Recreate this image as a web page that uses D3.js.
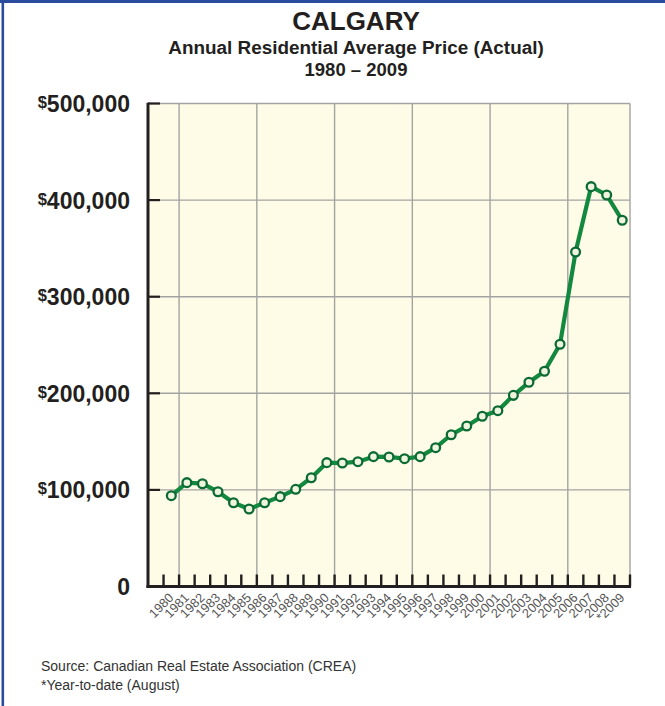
<!DOCTYPE html>
<html>
<head>
<meta charset="utf-8">
<script src="https://cdn.jsdelivr.net/npm/d3@7"></script>
<style>
  html, body { margin: 0; padding: 0; background: #fff; }
  svg { display: block; font-family: "Liberation Sans", Arial, Helvetica, sans-serif; }
</style>
</head>
<body>
<svg id="chart" width="665" height="706"></svg>
<script>
// Calgary annual residential average price, 1980–2009 (2009 year-to-date)
const years = [1980, 1981, 1982, 1983, 1984, 1985, 1986, 1987, 1988, 1989,
               1990, 1991, 1992, 1993, 1994, 1995, 1996, 1997, 1998, 1999,
               2000, 2001, 2002, 2003, 2004, 2005, 2006, 2007, 2008, 2009];
const yearLabels = ["1980", "1981", "1982", "1983", "1984", "1985", "1986", "1987", "1988", "1989",
                    "1990", "1991", "1992", "1993", "1994", "1995", "1996", "1997", "1998", "1999",
                    "2000", "2001", "2002", "2003", "2004", "2005", "2006", "2007", "2008", "*2009"];
const avgPrice = [94000, 107500, 106400, 98100, 86700, 80200, 86700, 93000, 100600, 112600,
                  128200, 127800, 129200, 134400, 134100, 132300, 134400, 143700, 157100, 166100,
                  176200, 182000, 197900, 211400, 222800, 250800, 346300, 413900, 405300, 379100];
const yTicks = [0, 100000, 200000, 300000, 400000, 500000];
const yTickLabels = ["0", "100,000", "200,000", "300,000", "400,000", "500,000"];
// every fifth year boundary gets a vertical grid line
const gridYears = [1981, 1986, 1991, 1996, 2001, 2006];

const svg = d3.select("#chart");
const W = 665;

// frame
svg.append("line").attr("x1", 0).attr("x2", W).attr("y1", 1.5).attr("y2", 1.5)
  .attr("stroke", "#2a4c9e").attr("stroke-width", 3);
svg.append("line").attr("x1", 2.8).attr("x2", 2.8).attr("y1", 0).attr("y2", 706)
  .attr("stroke", "#2a4c9e").attr("stroke-width", 2.6);

// titles
const cx = 356;
svg.append("text").attr("x", cx).attr("y", 29.5).attr("text-anchor", "middle")
  .attr("font-size", 26).attr("font-weight", "bold").attr("fill", "#231f20").text("CALGARY");
svg.append("text").attr("x", cx).attr("y", 54).attr("text-anchor", "middle")
  .attr("font-size", 18.9).attr("font-weight", "bold").attr("fill", "#231f20")
  .text("Annual Residential Average Price (Actual)");
svg.append("text").attr("x", cx).attr("y", 76).attr("text-anchor", "middle")
  .attr("font-size", 18.5).attr("font-weight", "bold").attr("fill", "#231f20")
  .text("1980 \u2013 2009");

// plot geometry
const pLeft = 148, pRight = 630, pTop = 103.5, pBottom = 586.5;
const slot = (pRight - pLeft) / (years.length + 1);

const x = d3.scaleBand().domain(years).range([pLeft + slot, pRight]).padding(0);
const y = d3.scaleLinear().domain([0, 500000]).range([pBottom, pTop]);

svg.append("rect").attr("x", pLeft).attr("y", pTop)
  .attr("width", pRight - pLeft).attr("height", pBottom - pTop)
  .attr("fill", "#fefce6");

// grid
const grid = svg.append("g").attr("stroke", "#a3a3a3").attr("stroke-width", 1.4);
yTicks.filter(v => v > 0).forEach(v => {
  grid.append("line").attr("x1", pLeft).attr("x2", pRight).attr("y1", y(v)).attr("y2", y(v));
});
gridYears.forEach(yr => {
  grid.append("line").attr("x1", x(yr)).attr("x2", x(yr)).attr("y1", pTop).attr("y2", pBottom);
});
grid.append("line").attr("x1", pRight).attr("x2", pRight).attr("y1", pTop).attr("y2", pBottom);

// axes
const axis = svg.append("g").attr("stroke", "#231f20");
axis.append("line").attr("x1", pLeft).attr("x2", pLeft).attr("y1", pTop - 0.7).attr("y2", pBottom + 1.5)
  .attr("stroke-width", 3);
axis.append("line").attr("x1", pLeft - 1.5).attr("x2", pRight + 1).attr("y1", pBottom).attr("y2", pBottom)
  .attr("stroke-width", 3);
yTicks.filter(v => v > 0).forEach(v => {
  axis.append("line").attr("x1", pLeft).attr("x2", pLeft + 12).attr("y1", y(v)).attr("y2", y(v))
    .attr("stroke-width", 2.2);
});
const tickXs = years.map(yr => x(yr)).concat([x(years[years.length - 1]) + x.bandwidth()]);
tickXs.forEach(tx => {
  axis.append("line").attr("x1", tx).attr("x2", tx).attr("y1", pBottom).attr("y2", pBottom - 12)
    .attr("stroke-width", 2.4);
});

// y labels
yTicks.forEach((v, i) => {
  const t = svg.append("text").attr("x", 130).attr("y", y(v) + 8.5)
    .attr("text-anchor", "end").attr("font-weight", "bold").attr("fill", "#231f20");
  if (v > 0) {
    t.append("tspan").attr("font-size", 16.5).attr("dy", -4).text("$");
    t.append("tspan").attr("font-size", 23).attr("dy", 4).text(yTickLabels[i]);
  } else {
    t.attr("font-size", 23).text(yTickLabels[i]);
  }
});

// x labels
years.forEach((yr, i) => {
  const lx = x(yr) + x.bandwidth() / 2 + 3;
  svg.append("text").attr("transform", `translate(${lx},${pBottom + 12}) rotate(-45)`)
    .attr("text-anchor", "end").attr("font-size", 12.8).attr("fill", "#555")
    .text(yearLabels[i]);
});

// price line with ring markers
const pts = years.map((yr, i) => [x(yr) + x.bandwidth() / 2, y(avgPrice[i])]);
svg.append("path").attr("d", d3.line()(pts))
  .attr("fill", "none").attr("stroke", "#13893f").attr("stroke-width", 4.2)
  .attr("stroke-linejoin", "round");
svg.append("g").selectAll("circle").data(pts).join("circle")
  .attr("cx", d => d[0]).attr("cy", d => d[1]).attr("r", 4.4)
  .attr("fill", "#eef5dc").attr("stroke", "#0c6a34").attr("stroke-width", 2.3);

// notes
svg.append("text").attr("x", 41).attr("y", 671).attr("font-size", 14).attr("fill", "#333")
  .text("Source: Canadian Real Estate Association (CREA)");
svg.append("text").attr("x", 41).attr("y", 689.5).attr("font-size", 14).attr("fill", "#333")
  .text("*Year-to-date (August)");
</script>
</body>
</html>
